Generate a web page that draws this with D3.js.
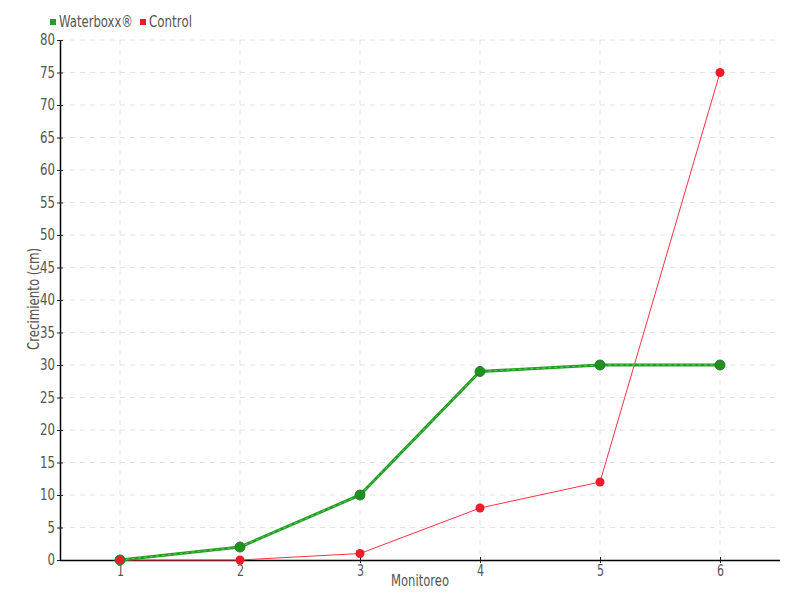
<!DOCTYPE html>
<html><head><meta charset="utf-8">
<script src="https://cdn.jsdelivr.net/npm/d3@7"></script>
<style>
body{margin:0;background:#fff;}
text{font-family:"DejaVu Sans",sans-serif;}
</style></head>
<body><svg id="c" width="800" height="600"></svg>
<script>
const categories = ["1","2","3","4","5","6"];
const waterboxx = [0, 2, 10, 29, 30, 30];
const control = [0, 0, 1, 8, 12, 75];
const yTicks = d3.range(0, 81, 5);

const svg = d3.select("#c");
const L=60, R=780, T=40, B=560;
const x = d3.scalePoint().domain(categories).range([L,R]).padding(0.5);
const y = d3.scaleLinear().domain([0,80]).range([B,T]);
const grey="#555";
const narrow = (sel, perChar) => sel.each(function(){
  const n = this.textContent.length;
  d3.select(this).attr("textLength", n*perChar).attr("lengthAdjust","spacingAndGlyphs");
});

// grid
svg.append("g").selectAll("line").data(yTicks.filter(d=>d>0)).join("line")
  .attr("x1",L).attr("x2",R).attr("y1",d=>y(d)).attr("y2",d=>y(d))
  .attr("stroke","#e2e2e2").attr("stroke-dasharray","5,5");
svg.append("g").selectAll("line").data(categories).join("line")
  .attr("x1",d=>x(d)).attr("x2",d=>x(d)).attr("y1",T).attr("y2",B)
  .attr("stroke","#e2e2e2").attr("stroke-dasharray","5,5");

// axes
const ya = svg.append("g").attr("transform",`translate(${L},0)`)
  .call(d3.axisLeft(y).tickValues(yTicks).tickSizeInner(3).tickSizeOuter(0).tickPadding(2));
ya.selectAll(".tick line").attr("x2",3).attr("x1",-3).attr("stroke","#222");
const xa = svg.append("g").attr("transform",`translate(0,${B})`)
  .call(d3.axisBottom(x).tickSizeInner(3).tickSizeOuter(0).tickPadding(2));
xa.selectAll(".tick line").attr("y1",-3).attr("y2",3).attr("stroke","#222");
xa.select(".domain").attr("d",`M${L},0.5H${R}`);
[ya,xa].forEach(a=>{
  a.select(".domain").attr("stroke","#000").attr("stroke-width",1.5);
  a.selectAll("text").attr("fill",grey).style("font-size","15px");
});
ya.selectAll(".tick text").attr("x",-5).call(narrow,7.5);
xa.selectAll(".tick text").call(narrow,7);

// titles
svg.append("text").attr("x",(L+R)/2).attr("y",586).attr("text-anchor","middle")
  .attr("fill",grey).style("font-size","15px").attr("textLength",58)
  .attr("lengthAdjust","spacingAndGlyphs").text("Monitoreo");
svg.append("text").attr("transform",`translate(39,299) rotate(-90)`)
  .attr("text-anchor","middle").attr("fill",grey).style("font-size","15px")
  .attr("textLength",102).attr("lengthAdjust","spacingAndGlyphs").text("Crecimiento (cm)");

// lines
const line = d3.line().x((d,i)=>x(categories[i])).y(d=>y(d));
svg.append("path").datum(control).attr("d",line).attr("fill","none")
  .attr("stroke","#ff3344").attr("stroke-width",1);
svg.append("g").selectAll("circle").data(control).join("circle")
  .attr("cx",(d,i)=>x(categories[i])).attr("cy",d=>y(d)).attr("r",4.5)
  .attr("fill","#ee1c2a");
svg.append("path").datum(waterboxx).attr("d",line).attr("fill","none")
  .attr("stroke","#1f9f1f").attr("stroke-width",3);
svg.append("path").datum(waterboxx).attr("d",line).attr("fill","none")
  .attr("stroke","#6cc46c").attr("stroke-width",1).attr("stroke-dasharray","3,3");
svg.append("g").selectAll("circle").data(waterboxx).join("circle")
  .attr("cx",(d,i)=>x(categories[i])).attr("cy",d=>y(d)).attr("r",5)
  .attr("fill","#1d921d").attr("stroke","#2e7a2e").attr("stroke-width",1);
svg.append("circle").attr("cx",x(categories[0])).attr("cy",y(control[0])).attr("r",4)
  .attr("fill","#ee1c2a");

// legend
const leg=[["Waterboxx®","#1fa01f",50,74],["Control","#ee1c2a",140,43]];
leg.forEach(([t,c,lx,w])=>{
  svg.append("rect").attr("x",lx).attr("y",19).attr("width",6).attr("height",6).attr("fill",c);
  svg.append("text").attr("x",lx+9).attr("y",27).attr("fill",grey).style("font-size","15px")
    .attr("textLength",w).attr("lengthAdjust","spacingAndGlyphs").text(t);
});
</script></body></html>
